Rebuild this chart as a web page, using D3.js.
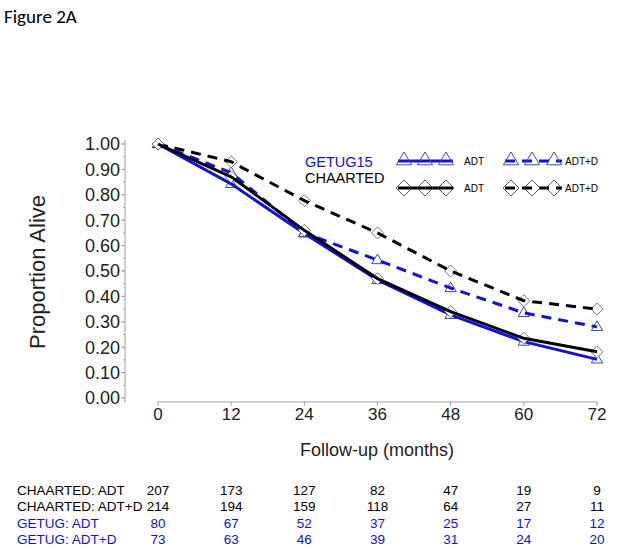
<!DOCTYPE html>
<html>
<head>
<meta charset="utf-8">
<script src="https://cdn.jsdelivr.net/npm/d3@7"></script>
<style>
  body { margin: 0; background: #fff; }
  svg { font-family: "Liberation Sans", Arial, sans-serif; }
</style>
</head>
<body>
<div id="chart"></div>
<script>
// Data
const months = [0, 12, 24, 36, 48, 60, 72];
const getugAdt = [1.0, 0.843, 0.648, 0.465, 0.327, 0.222, 0.152];
const getugAdtD = [1.0, 0.887, 0.65, 0.543, 0.433, 0.335, 0.28];
const chaartedAdt = [1.0, 0.871, 0.66, 0.47, 0.34, 0.235, 0.182];
const chaartedAdtD = [1.0, 0.93, 0.777, 0.65, 0.5, 0.383, 0.35];
const yTicks = [0, 0.1, 0.2, 0.3, 0.4, 0.5, 0.6, 0.7, 0.8, 0.9, 1.0];

const riskLabels = ['CHAARTED: ADT', 'CHAARTED: ADT+D', 'GETUG: ADT', 'GETUG: ADT+D'];
const riskCounts = [
  [207, 173, 127, 82, 47, 19, 9],
  [214, 194, 159, 118, 64, 27, 11],
  [80, 67, 52, 37, 25, 17, 12],
  [73, 63, 46, 39, 31, 24, 20],
];

const blue = '#1010e0',
  markBlue = '#4646b4',
  axisGray = '#a0a0a0';

let width = 618,
  height = 551;

const svg = d3
  .select('#chart')
  .append('svg')
  .attr('width', width)
  .attr('height', height);

const x = d3.scaleLinear().domain([0, 72]).range([158, 597]);
const y = d3.scaleLinear().domain([0, 1]).range([398, 144]);

// title
svg.append('text')
  .attr('x', 4)
  .attr('y', 23)
  .attr('font-family', 'Carlito, "Open Sans", sans-serif')
  .attr('font-size', 19)
  .text('Figure 2A');

// y axis (offset from the x axis, SAS style)
const yAxis = svg.append('g').attr('transform', 'translate(125,0)');
yAxis.append('line')
  .attr('y1', 140).attr('y2', 403)
  .attr('stroke', axisGray);
yAxis.selectAll('.minor')
  .data(d3.range(0, 1.0001, 0.05))
  .join('line')
  .attr('x1', -2).attr('x2', 0)
  .attr('y1', (d) => y(d)).attr('y2', (d) => y(d))
  .attr('stroke', axisGray);
yAxis.selectAll('.major')
  .data(yTicks)
  .join('line')
  .attr('x1', -4).attr('x2', 0)
  .attr('y1', (d) => y(d)).attr('y2', (d) => y(d))
  .attr('stroke', axisGray);
yAxis.selectAll('text')
  .data(yTicks)
  .join('text')
  .attr('x', -5)
  .attr('y', (d) => y(d))
  .attr('dy', '0.36em')
  .attr('text-anchor', 'end')
  .attr('font-size', 18)
  .attr('fill', '#222')
  .text((d) => d.toFixed(2));

svg.append('text')
  .attr('transform', 'translate(45,272) rotate(-90)')
  .attr('text-anchor', 'middle')
  .attr('font-size', 22)
  .attr('fill', '#222')
  .text('Proportion Alive');

// x axis
const xAxis = svg.append('g').attr('transform', 'translate(0,402)');
xAxis.append('line')
  .attr('x1', 157).attr('x2', 598)
  .attr('stroke', axisGray);
xAxis.selectAll('.tick')
  .data(months)
  .join('line')
  .attr('x1', (d) => x(d)).attr('x2', (d) => x(d))
  .attr('y1', 0).attr('y2', 4)
  .attr('stroke', axisGray);
xAxis.selectAll('text')
  .data(months)
  .join('text')
  .attr('x', (d) => x(d))
  .attr('y', 18)
  .attr('text-anchor', 'middle')
  .attr('font-size', 17)
  .attr('fill', '#222')
  .text((d) => d);

svg.append('text')
  .attr('x', 377)
  .attr('y', 456)
  .attr('text-anchor', 'middle')
  .attr('font-size', 18)
  .attr('fill', '#222')
  .text('Follow-up (months)');

// markers
const triPath = (s) => `M0,${-s}L${s * 0.95},${s * 0.6}L${-s * 0.95},${s * 0.6}Z`;
const diaPath = (s) => `M0,${-s}L${s},0L0,${s}L${-s},0Z`;

const series = [
  { vals: getugAdtD, color: blue, dash: '10,7', mark: 'tri' },
  { vals: chaartedAdtD, color: '#000', dash: '10,7', mark: 'dia' },
  { vals: getugAdt, color: blue, dash: null, mark: 'tri' },
  { vals: chaartedAdt, color: '#000', dash: null, mark: 'dia' },
];

const line = d3.line()
  .x((d, i) => x(months[i]))
  .y((d) => y(d));

const drawMarker = (sel, type, size) => {
  if (type === 'tri') {
    sel.attr('d', triPath(size))
      .attr('fill', 'none')
      .attr('stroke', markBlue)
      .attr('stroke-width', 1);
  } else {
    sel.attr('d', diaPath(size))
      .attr('fill', '#fff')
      .attr('stroke', '#555')
      .attr('stroke-width', 0.8);
  }
};

series.forEach((s) => {
  const grp = svg.append('g');
  grp.selectAll('path.m')
    .data(s.vals)
    .join('path')
    .attr('class', 'm')
    .attr('transform', (d, i) => `translate(${x(months[i])},${y(d)})`)
    .call(drawMarker, s.mark, 6);
  grp.append('path')
    .datum(s.vals)
    .attr('d', line)
    .attr('fill', 'none')
    .attr('stroke', s.color)
    .attr('stroke-width', 3)
    .attr('stroke-dasharray', s.dash);
});

// legend
svg.append('text')
  .attr('x', 305).attr('y', 167)
  .attr('font-size', 14.5).attr('fill', blue)
  .text('GETUG15');
svg.append('text')
  .attr('x', 305).attr('y', 183)
  .attr('font-size', 14.5).attr('fill', '#000')
  .text('CHAARTED');

const legendRows = [
  { y: 161, color: blue, mark: 'tri' },
  { y: 188, color: '#000', mark: 'dia' },
];
const solidX = [404, 425, 446],
  dashX = [511, 532, 554];

legendRows.forEach((r) => {
  const g = svg.append('g');
  g.append('line')
    .attr('x1', 398).attr('x2', 453)
    .attr('y1', r.y).attr('y2', r.y)
    .attr('stroke', r.color).attr('stroke-width', 3);
  g.append('line')
    .attr('x1', 505).attr('x2', 562)
    .attr('y1', r.y).attr('y2', r.y)
    .attr('stroke', r.color).attr('stroke-width', 3)
    .attr('stroke-dasharray', '10,7');
  g.selectAll('path')
    .data(solidX.concat(dashX))
    .join('path')
    .attr('transform', (d) => `translate(${d},${r.mark === 'tri' ? r.y - 1 : r.y})`)
    .call(drawMarker, r.mark, 8)
    .attr('fill', 'none')
    .attr('stroke', r.mark === 'tri' ? markBlue : '#333');
  g.append('text')
    .attr('x', 464).attr('y', r.y).attr('dy', '0.35em')
    .attr('font-size', 10).text('ADT');
  g.append('text')
    .attr('x', 565).attr('y', r.y).attr('dy', '0.35em')
    .attr('font-size', 10).text('ADT+D');
});

// numbers at risk
const rowY = [490, 506, 523, 539];
const rowColor = ['#000', '#000', blue, blue];
riskLabels.forEach((lab, i) => {
  const g = svg.append('g').attr('fill', rowColor[i]).attr('font-size', 13.5);
  g.append('text')
    .attr('x', 17).attr('y', rowY[i]).attr('dy', '0.35em')
    .text(lab);
  g.selectAll('text.n')
    .data(riskCounts[i])
    .join('text')
    .attr('class', 'n')
    .attr('x', (d, j) => x(months[j]))
    .attr('y', rowY[i]).attr('dy', '0.35em')
    .attr('text-anchor', 'middle')
    .text((d) => d);
});
</script>
</body>
</html>
